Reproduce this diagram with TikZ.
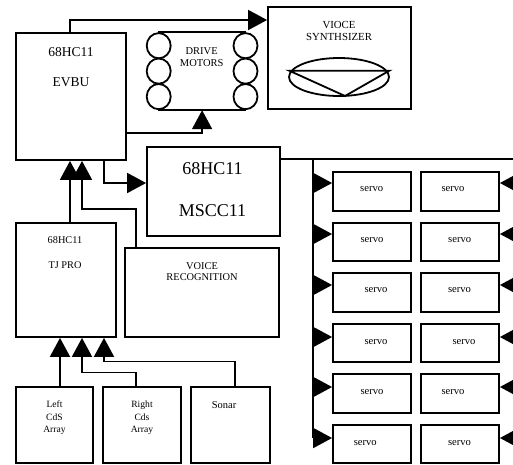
\documentclass[tikz,border=0pt]{standalone}
\usepackage{fontspec}
\setmainfont{Liberation Serif}
\usetikzlibrary{arrows.meta}
\newcommand\myfs[1]{\fontsize{#1}{#1}\selectfont}
\begin{document}
\begin{tikzpicture}[x=1pt,y=-1pt,line width=1.8pt,
  box/.style={draw,line width=1.8pt,inner sep=0pt,rectangle},
  arr/.style={line width=1.8pt,-{Triangle[length=19pt,width=20pt]}},
  lbl/.style={inner sep=0pt,anchor=base},
  servobox/.style={box,minimum width=78pt}]
\useasboundingbox (0,0) rectangle (513,464);
\clip (0,0) rectangle (513,464);

% ---- main boxes
\node[box,minimum width=110pt,minimum height=127pt] (evbu) at (71,96.5) {};
\node[box,minimum width=143pt,minimum height=102pt] (vs) at (339.5,58) {};
\node[inner sep=0pt,minimum width=86.8pt,minimum height=76.3pt] (dm) at (202.1,71.15) {};
\node[box,minimum width=133pt,minimum height=89pt] (mscc) at (213.5,191.5) {};
\node[box,minimum width=100pt,minimum height=114pt] (tj) at (66,280) {};
\node[box,minimum width=154pt,minimum height=89pt] (vr) at (202,292.5) {};
\node[box,minimum width=77pt,minimum height=75.7pt] (lc) at (54.5,425.2) {};
\node[box,minimum width=78pt,minimum height=75.7pt] (rc) at (142,425.2) {};
\node[box,minimum width=79pt,minimum height=75.7pt] (so) at (230.5,425.2) {};

% ---- drive motors drawing
\draw (dm.north west) -- (dm.north east);
\draw (dm.south west) -- (dm.south east);
\foreach \cy in {45.7,71.1,96.6}{
  \draw (158.7,\cy) ellipse [x radius=12,y radius=12.6];
  \draw (245.5,\cy) ellipse [x radius=12,y radius=12.6];
}

% ---- speaker in voice synthesizer
\draw (339,77) ellipse [x radius=50,y radius=19];
\draw[line join=miter] (289.3,70.7) -- (389.3,70.7) -- (345,96) -- cycle;

% ---- texts
\node[lbl,font=\myfs{13.5}] (evbuA) at (71,56) {68HC11};
\node[lbl,font=\myfs{13.5}] (evbuB) at (71,86) {EVBU};
\node[lbl,font=\myfs{10.5}] (dmA) at (201.7,54) {DRIVE};
\node[lbl,font=\myfs{10.5}] (dmB) at (201.7,66) {MOTORS};
\node[lbl,font=\myfs{10.8}] (vsA) at (339,28.3) {VIOCE};
\node[lbl,font=\myfs{10.8}] (vsB) at (339,40) {SYNTHSIZER};
\node[lbl,font=\myfs{18}] (msccA) at (212.5,174.3) {68HC11};
\node[lbl,font=\myfs{18}] (msccB) at (212.5,216.7) {MSCC11};
\node[lbl,font=\myfs{10.3}] (tjA) at (65,243.5) {68HC11};
\node[lbl,font=\myfs{10.3}] (tjB) at (65,268.3) {TJ PRO};
\node[lbl,font=\myfs{10.4}] (vrA) at (202,269.3) {VOICE};
\node[lbl,font=\myfs{10.4}] (vrB) at (202,280.7) {RECOGNITION};
\node[lbl,font=\myfs{9.6}] (lcA) at (54.5,407.7) {Left};
\node[lbl,font=\myfs{9.6}] (lcB) at (54.5,420) {CdS};
\node[lbl,font=\myfs{9.6}] (lcC) at (54.5,432) {Array};
\node[lbl,font=\myfs{9.6}] (rcA) at (142,407.7) {Right};
\node[lbl,font=\myfs{9.6}] (rcB) at (142,420) {Cds};
\node[lbl,font=\myfs{9.6}] (rcC) at (142,432) {Array};
\node[lbl,font=\myfs{10.5}] (soA) at (224,408) {Sonar};

% ---- connectors around EVBU
\draw[arr] ([xshift=-1pt]evbu.north) |- ([yshift=38pt]vs.west);
\draw[arr] ([yshift=-36.8pt]evbu.east) -| (dm.south);
\draw[arr] ([xshift=33pt]evbu.south) |- ([yshift=8.5pt]mscc.west);
\draw[arr] ([xshift=4pt]tj.north) -- ([xshift=-1pt]evbu.south);
\draw[arr] ([xshift=-66pt]vr.north) -- ++(0,-38) -| ([xshift=11pt]evbu.south);

% ---- sensors to TJ PRO
\draw[arr] ([xshift=5.5pt]lc.north) -- ([xshift=-6pt]tj.south);
\draw[arr] ([xshift=-6pt]rc.north) -- ++(0,-14) -| ([xshift=16pt]tj.south);
\draw[arr] ([xshift=4.5pt]so.north) -- ++(0,-25) -| ([xshift=38pt]tj.south);

% ---- servo bus
\coordinate (busTop) at (313,159);
\coordinate (busR) at (520,159);
\draw (mscc.east |- busR) -- (busR);

\foreach \i/\top/\bot/\ay/\lx/\rx/\bl in {
  1/172/211/183/371.7/453/191.7,
  2/223/261/234/372/459.7/242.4,
  3/273/312/285/376/459.5/292.4,
  4/324/362/337/376/464/344.7,
  5/374/413/387/372/453/394,
  6/425/463/438/365.3/459.5/445.7}{
  \pgfmathsetmacro\cy{(\top+\bot)/2}
  \pgfmathsetmacro\hh{\bot-\top}
  \node[servobox,minimum height=\hh pt] (sL\i) at (372,\cy) {};
  \node[servobox,minimum height=\hh pt] (sR\i) at (460,\cy) {};
  \node[lbl,font=\myfs{10.6}] (tL\i) at (\lx,\bl) {servo};
  \node[lbl,font=\myfs{10.6}] (tR\i) at (\rx,\bl) {servo};
  \coordinate (aL\i) at (313,\ay);
  \coordinate (aR\i) at (520,\ay);
  \draw[arr] (aL\i) -- (aL\i -| sL\i.west);
  \draw[arr] (aR\i) -- (aR\i -| sR\i.east);
}
\draw (busTop) -- (aL6);
\end{tikzpicture}
\end{document}
